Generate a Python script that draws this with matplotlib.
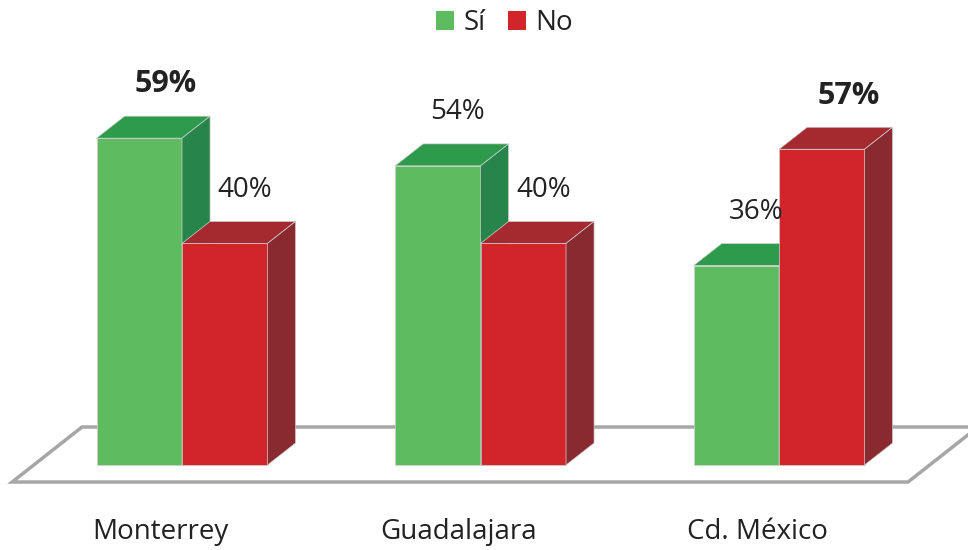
import matplotlib
matplotlib.use("Agg")
import matplotlib.pyplot as plt
from matplotlib.patches import Polygon, Patch

plt.rcParams['font.family'] = ['Open Sans', 'DejaVu Sans']

cities = ["Monterrey", "Guadalajara", "Cd. México"]
si = [59, 54, 36]
no = [40, 40, 57]
si_bold = [True, False, False]
no_bold = [False, False, True]

green = ("#5FBB60", "#2E9A4C", "#27844A")   # front, top, side
red = ("#D2252B", "#A52A30", "#882A2F")

bw = 0.2864   # bar width in group units
ddx = 0.094   # depth offset x
ddy = 3.97    # depth offset y (percent units)

fig = plt.figure(figsize=(9.68, 5.5), dpi=100)
ax = fig.add_axes([0, 0, 1, 1])
ax.set_xlim(-0.6097, 2.633)
ax.set_ylim(-15.34, 83.94)
ax.axis("off")

# floor
fl = [(-0.569, -3.07), (2.432, -3.07), (2.432 + 0.2345, 6.86), (-0.335, 6.86)]
ax.add_patch(Polygon(fl, closed=True, facecolor="white", edgecolor="#A6A6A6",
                     lw=2.5, zorder=1))


def bar3d(x0, h, cols):
    x1 = x0 + bw
    front = [(x0, 0), (x1, 0), (x1, h), (x0, h)]
    top = [(x0, h), (x1, h), (x1 + ddx, h + ddy), (x0 + ddx, h + ddy)]
    side = [(x1, 0), (x1 + ddx, ddy), (x1 + ddx, h + ddy), (x1, h)]
    for pts, c in zip((front, top, side), cols):
        ax.add_patch(Polygon(pts, closed=True, facecolor=c, edgecolor="#D0D0D0",
                             lw=0.5, zorder=2))


def value_label(x, v, bold):
    ax.text(x + (0.09 if bold else 0.067), v + 9.7, f"{v}%", ha="center",
            va="center", fontsize=22 if bold else 20, color="#222222",
            fontweight="bold" if bold else "normal")


for i, city in enumerate(cities):
    bar3d(i - bw, si[i], green)
    bar3d(i, no[i], red)
    value_label(i - bw / 2, si[i], si_bold[i])
    value_label(i + bw / 2, no[i], no_bold[i])
    ax.text(i - 0.074, -12.1, city, ha="center", va="center", fontsize=20,
            color="#222222")

handles = [Patch(facecolor=green[0], edgecolor="none"),
           Patch(facecolor=red[0], edgecolor="none")]
fig.legend(handles, ["Sí", "No"], loc="center", bbox_to_anchor=(0.521, 0.958),
           ncol=2, frameon=False, fontsize=20, handlelength=0.65, handleheight=0.65,
           handletextpad=0.35, columnspacing=0.8, labelcolor="#222222")

fig.savefig("out.png", dpi=100)
